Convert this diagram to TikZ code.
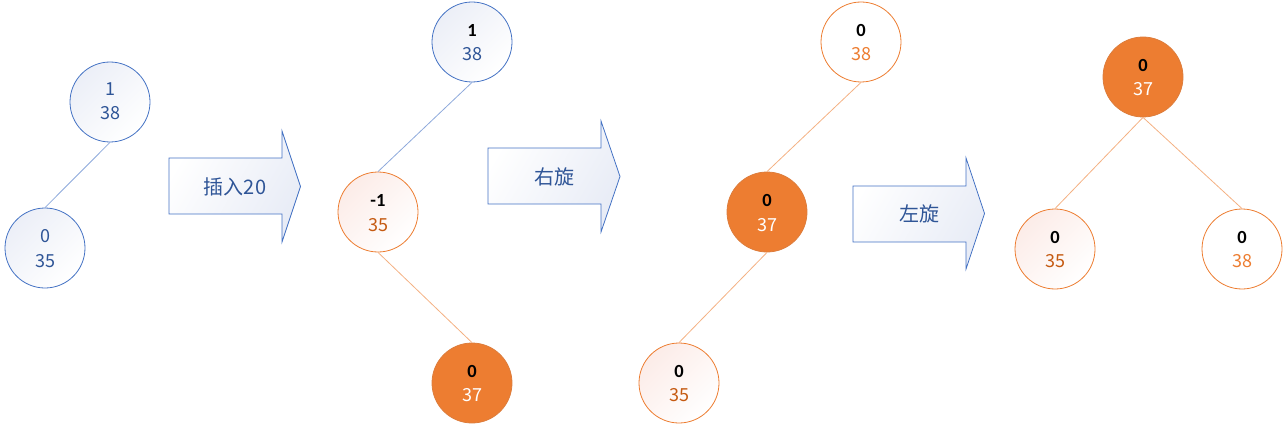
\documentclass[tikz,border=0pt]{standalone}
\usepackage{fontspec}
\setmainfont{Carlito}
\newfontfamily\cjk{Noto Sans CJK SC}
\definecolor{bline}{HTML}{4472C4}
\definecolor{bedge}{HTML}{8EA9DB}
\definecolor{btext}{HTML}{2F5597}
\definecolor{oline}{HTML}{ED7D31}
\definecolor{oedge}{HTML}{F4B183}
\definecolor{otext}{HTML}{C55A11}
\definecolor{bfill}{HTML}{ECEFF7}
\definecolor{afill}{HTML}{E8ECF6}
\definecolor{ofill}{HTML}{FCECE8}
\tikzset{
 circ/.style={circle, minimum size=80pt, inner sep=0pt, line width=0.8pt},
 bnode/.style={circ, draw=bline, top color=bfill, bottom color=white, shading angle=45},
 onode/.style={circ, draw=oline, top color=ofill, bottom color=white, shading angle=45},
 owhite/.style={circ, draw=oline, fill=white},
 fnode/.style={circ, draw=oline!85!gray, fill=oline},
 bf/.style={font=\fontsize{18.5}{18.5}\selectfont\bfseries, text=black, inner sep=0pt},
 nt/.style={font=\cjk\fontsize{18}{18}\selectfont, inner sep=0pt},
 bedgeS/.style={draw=bedge, line width=0.8pt},
 oedgeS/.style={draw=oedge, line width=0.8pt},
 arrowshape/.style={draw=bline, line width=0.8pt, left color=white, right color=afill, shading angle=60},
 atext/.style={font=\cjk\fontsize{20}{20}\selectfont, text=btext, inner sep=0pt},
}
\begin{document}
\begin{tikzpicture}[x=1pt,y=-1pt]
\useasboundingbox (0,0) rectangle (1287,425);

% ---------- tree 1
\node[bnode] (a1) at (110,102) {};
\node[bnode] (b1) at (45,248) {};
\node[nt, text=btext] (a1t) at (110,89) {1};
\node[nt, text=btext] (a1b) at (110,113) {38};
\node[nt, text=btext] (b1t) at (45,236) {0};
\node[nt, text=btext] (b1b) at (45,261) {35};
\draw[bedgeS] (a1.south) -- (b1.north);

% arrow 1
\draw[arrowshape] (169,158) -- (282,158) -- (282,131) -- (300.5,186.5) -- (282,242) -- (282,214) -- (169,214) -- cycle;
\node[atext] (t1) at (235,187) {插入20};

% ---------- tree 2
\node[bnode] (a2) at (472,42) {};
\node[onode] (b2) at (378,212) {};
\node[fnode] (c2) at (472,383) {};
\node[bf] (a2t) at (472,30) {1};
\node[nt, text=btext] (a2b) at (472,54) {38};
\node[bf] (b2t) at (378,200) {-1};
\node[nt, text=otext] (b2b) at (378,225) {35};
\node[bf] (c2t) at (472,371) {0};
\node[nt, text=white] (c2b) at (472,395) {37};
\draw[bedgeS] (a2.south) -- (b2.north);
\draw[oedgeS] (b2.south) -- (c2.north);

% arrow 2
\draw[arrowshape] (488,148) -- (601,148) -- (601,121) -- (620,176.5) -- (601,232) -- (601,204) -- (488,204) -- cycle;
\node[atext] (t2) at (554,177) {右旋};

% ---------- tree 3
\node[owhite] (a3) at (861,42) {};
\node[fnode] (b3) at (767,212) {};
\node[onode] (c3) at (679,383) {};
\node[bf] (a3t) at (861,30) {0};
\node[nt, text=oline] (a3b) at (861,54) {38};
\node[bf] (b3t) at (767,200) {0};
\node[nt, text=white] (b3b) at (767,225) {37};
\node[bf] (c3t) at (679,371) {0};
\node[nt, text=otext] (c3b) at (679,395) {35};
\draw[oedgeS] (a3.south) -- (b3.north);
\draw[oedgeS] (b3.south) -- (c3.north);

% arrow 3
\draw[arrowshape] (853,186) -- (966,186) -- (966,158) -- (984.5,213.5) -- (966,269) -- (966,242) -- (853,242) -- cycle;
\node[atext] (t3) at (919,214) {左旋};

% ---------- tree 4
\node[fnode] (a4) at (1143,77) {};
\node[onode] (b4) at (1055,249) {};
\node[owhite] (c4) at (1242,249) {};
\node[bf] (a4t) at (1143,65) {0};
\node[nt, text=white] (a4b) at (1143,89) {37};
\node[bf] (b4t) at (1055,237) {0};
\node[nt, text=otext] (b4b) at (1055,261) {35};
\node[bf] (c4t) at (1242,237) {0};
\node[nt, text=oline] (c4b) at (1242,261) {38};
\draw[oedgeS] (a4.south) -- (b4.north);
\draw[oedgeS] (a4.south) -- (c4.north);
\end{tikzpicture}
\end{document}
